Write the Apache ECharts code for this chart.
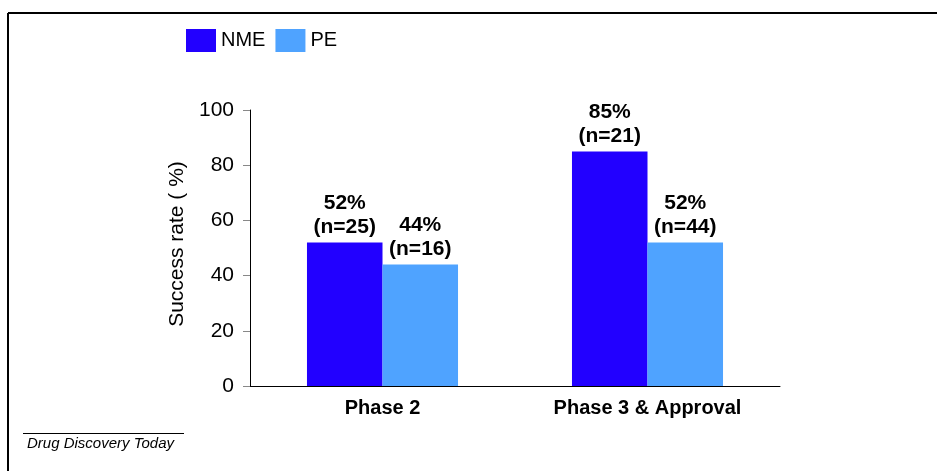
<!DOCTYPE html>
<html>
<head>
<meta charset="utf-8">
<script src="https://cdn.jsdelivr.net/npm/echarts@6/dist/echarts.min.js"></script>
<style>
  html, body { margin: 0; padding: 0; background: #fff; }
  #chart { width: 937px; height: 471px; }
</style>
</head>
<body>
<div id="chart"></div>
<script>
// Phase success rates for new molecular entities vs. pharmaceutical equivalents
const phases = ['Phase 2', 'Phase 3 & Approval'];
const nmeRates = [52, 85];
const nmeCounts = [25, 21];
const peRates = [44, 52];
const peCounts = [16, 44];
const yTicks = [0, 20, 40, 60, 80, 100];

const FONT = '"Liberation Sans", Arial, sans-serif';

function barLabel(counts) {
  return {
    show: true,
    position: 'top',
    distance: 3,
    fontFamily: FONT,
    fontSize: 21,
    fontWeight: 'bold',
    color: '#000',
    lineHeight: 24,
    formatter: p => p.value + '%\n(n=' + counts[p.dataIndex] + ')'
  };
}

const chart = echarts.init(document.getElementById('chart'), null, { renderer: 'canvas' });
chart.setOption({
  animation: false,
  backgroundColor: '#fff',
  textStyle: { fontFamily: FONT },
  legend: {
    left: 186,
    top: 29,
    padding: 0,
    itemWidth: 30,
    itemHeight: 23,
    itemGap: 10,
    icon: 'rect',
    textStyle: { fontFamily: FONT, fontSize: 20, color: '#000' },
    data: ['NME', 'PE']
  },
  grid: { left: 250, right: 157, top: 110, bottom: 85, containLabel: false },
  xAxis: {
    type: 'category',
    data: phases,
    axisLine: { lineStyle: { color: '#000', width: 1 } },
    axisTick: { show: false },
    axisLabel: { fontFamily: FONT, fontSize: 20, fontWeight: 'bold', color: '#000', margin: 12 }
  },
  yAxis: {
    type: 'value',
    min: yTicks[0],
    max: yTicks[yTicks.length - 1],
    interval: 20,
    name: 'Success rate ( %)',
    nameLocation: 'middle',
    nameGap: 58,
    nameTextStyle: { fontFamily: FONT, fontSize: 21, color: '#000', padding: [0, 0, 0, 8] },
    axisLine: { show: true, lineStyle: { color: '#000', width: 1 } },
    axisTick: { show: true, length: 7, lineStyle: { color: '#888' } },
    axisLabel: { fontFamily: FONT, fontSize: 21, color: '#000', margin: 16 },
    splitLine: { show: false }
  },
  series: [
    {
      name: 'NME',
      type: 'bar',
      data: nmeRates,
      itemStyle: { color: '#2200FF' },
      barWidth: '28.5%',
      barGap: '0%',
      label: barLabel(nmeCounts)
    },
    {
      name: 'PE',
      type: 'bar',
      data: peRates,
      itemStyle: { color: '#4FA3FF' },
      barWidth: '28.5%',
      label: barLabel(peCounts)
    }
  ],
  graphic: [
    // frame: top and left rules
    { type: 'line', shape: { x1: 8, y1: 13, x2: 937, y2: 13 }, style: { stroke: '#000', lineWidth: 2 } },
    { type: 'line', shape: { x1: 8, y1: 13, x2: 8, y2: 471 }, style: { stroke: '#000', lineWidth: 2 } },
    // journal credit
    { type: 'line', shape: { x1: 23, y1: 433.5, x2: 184, y2: 433.5 }, style: { stroke: '#000', lineWidth: 1 } },
    {
      type: 'text', left: 27, top: 436,
      style: { text: 'Drug Discovery Today', font: 'italic 15px "Liberation Sans", Arial, sans-serif', fill: '#000' }
    }
  ]
});
</script>
</body>
</html>
